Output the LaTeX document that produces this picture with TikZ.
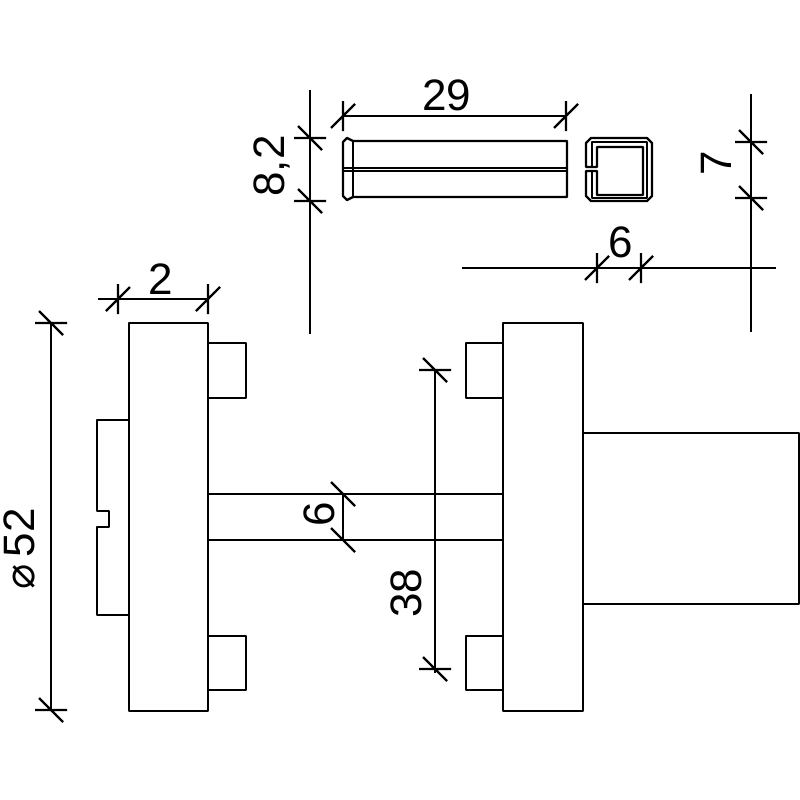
\documentclass[tikz,border=0pt]{standalone}
\usepackage{fontspec}
\setmainfont{Liberation Sans}
\newfontfamily\symbolfont{DejaVu Sans}
\tikzset{part/.style={draw=black, line width=2.4pt, line join=round},
dimline/.style={draw=black, line width=2.4pt},
dimtext/.style={inner sep=0pt, font=\fontsize{44}{44}\selectfont}}
\begin{document}
\begin{tikzpicture}[x=1pt, y=-1pt]
        \useasboundingbox (0, 0) rectangle (800, 800);
        % Left rosette
        \draw[part] (129, 323) rectangle (208, 711);
        \draw[part] (208, 343) -- (246, 343) -- (246, 398) -- (208, 398);
        \draw[part] (208, 636) -- (246, 636) -- (246, 690) -- (208, 690);
        \draw[part] (129, 420) -- (97, 420) -- (97, 511) -- (109, 511) -- (109, 527) -- (97, 527) -- (97, 615) -- (129, 615);
        % Right rosette and knob
        \draw[part] (503, 323) rectangle (583, 711);
        \draw[part] (503, 343) -- (466, 343) -- (466, 398) -- (503, 398);
        \draw[part] (503, 636) -- (466, 636) -- (466, 690) -- (503, 690);
        \draw[part] (583, 433) -- (799, 433) -- (799, 604) -- (583, 604);
        % Spindle
        \draw[part] (208, 494) -- (503, 494);
        \draw[part] (208, 540) -- (503, 540);
        % Pin
        \draw[part] (347, 138) -- (353, 141) -- (567, 141) -- (567, 197) -- (353, 197) -- (347, 200) -- (343, 196) -- (343, 142) -- cycle;
        \draw[part] (353, 141) -- (353, 197);
        \draw[part] (343, 168) -- (567, 168);
        \draw[part] (343, 171) -- (567, 171);
        % Pin section
        \draw[part] (586, 167) -- (586, 143) -- (591, 138) -- (647, 138) -- (652, 143) -- (652, 196) -- (647, 201) -- (591, 201) -- (586, 196) -- (586, 171) -- (597, 171) -- (597, 195) -- (643, 195) -- (643, 147) -- (597, 147) -- (597, 167) -- cycle;
        \draw[part] (592, 167) -- (592, 142) -- (647, 142) -- (647, 198) -- (592, 198) -- (592, 171);
        % Dimension lines
        \draw[dimline] (98, 299) -- (208, 299);
        \draw[dimline] (51, 323) -- (51, 710);
        \draw[dimline] (343, 494) -- (343, 540);
        \draw[dimline] (435, 370) -- (435, 673);
        \draw[dimline] (343, 116) -- (566, 116);
        \draw[dimline] (310, 90) -- (310, 334);
        \draw[dimline] (751, 94) -- (751, 332);
        \draw[dimline] (462, 268) -- (776, 268);
        % Ticks on vertical dimensions
        \foreach \x/\y in {
            51/323,
            51/710,
            435/370,
            435/669,
            310/138,
            310/201,
            751/142,
            751/198} {
            \draw[dimline, shift={(\x, \y)}] (-16, 0) -- (16, 0) (-12, -12) -- (12, 12);
        }
        \foreach \y in {494, 540} {
            \draw[dimline, shift={(343, \y)}] (-12, -12) -- (12, 12);
        }
        % Ticks on horizontal dimensions
        \foreach \x/\y in {
            118/299,
            208/299,
            343/116,
            566/116,
            597/268,
            641/268} {
            \draw[dimline, shift={(\x, \y)}] (0, -15) -- (0, 15) (-12, 12) -- (12, -12);
        }
        % Labels
        \node[dimtext] (width) at (161, 279) {2};
        \node[dimtext, rotate=90] (diameter) at (20, 549) {{\symbolfont\fontsize{42}{42}\selectfont ⌀}\,52};
        \node[dimtext, rotate=90] (spindle) at (319, 514) {6};
        \node[dimtext, rotate=90] (spacing) at (406, 593) {38};
        \node[dimtext] (length) at (447, 95) {29};
        \node[dimtext, rotate=90] (height) at (272, 166) {8,2};
        \node[dimtext, rotate=90] (side) at (716, 163) {7};
        \node[dimtext] (inner) at (621, 242) {6};
    \end{tikzpicture}
\end{document}
